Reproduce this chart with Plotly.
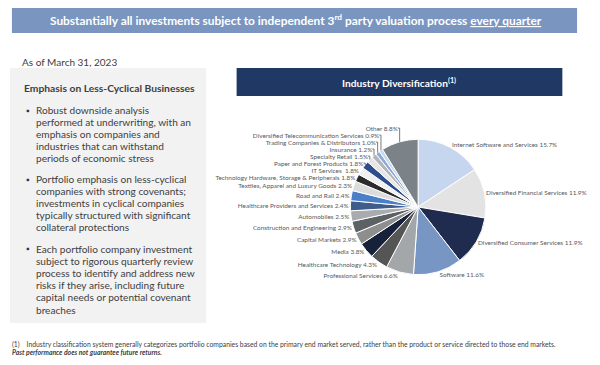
import plotly.graph_objects as go

industries = [
    "Internet Software and Services", "Diversified Financial Services",
    "Diversified Consumer Services", "Software", "Professional Services",
    "Healthcare Technology", "Media", "Capital Markets",
    "Construction and Engineering", "Automobiles",
    "Healthcare Providers and Services", "Road and Rail",
    "Textiles, Apparel and Luxury Goods",
    "Technology Hardware, Storage & Peripherals", "IT Services ",
    "Paper and Forest Products", "Specialty Retail", "Insurance",
    "Trading Companies & Distributors", "Diversified Telecommunication Services",
    "Other",
]
shares = [15.7, 11.9, 11.9, 11.6, 6.6, 4.3, 3.8, 2.9, 2.9, 2.5, 2.4, 2.4,
          2.3, 1.8, 1.8, 1.8, 1.5, 1.2, 1.0, 0.9, 8.8]
slice_colors = [
    "#c5d6ee", "#e3e3e3", "#1f2c4f", "#7896c3", "#a4a7aa", "#555555",
    "#17213a", "#8e8e8e", "#5c6166", "#a9acaf", "#3e5d8a", "#4a7ec9",
    "#dcdcdc", "#2b2b2b", "#f0f0f0", "#2d4d8c", "#e6e6e6", "#b3b5b8",
    "#8eaad6", "#c9daf0", "#7b8388",
]

bullets = [
    ["Robust downside analysis", "performed at underwriting, with an",
     "emphasis on companies and", "industries that can withstand",
     "periods of economic stress"],
    ["Portfolio emphasis on less-cyclical", "companies with strong covenants;",
     "investments in cyclical companies", "typically structured with significant",
     "collateral protections"],
    ["Each portfolio company investment", "subject to rigorous quarterly review",
     "process to identify and address new", "risks if they arise, including future",
     "capital needs or potential covenant", "breaches"],
]
bullet_tops = [110, 179, 249]

# page body has an 8px margin, so the figure is offset by 8px
OFF = 8
W, H = 600 - 2 * OFF, 365 - 2 * OFF
FONT = "Lato"

def px(x):
    return (x - OFF) / W

def py(y):
    return 1 - (y - OFF) / H

fig = go.Figure()

cx, cy, r = 426, 207, 69
fig.add_trace(go.Pie(
    labels=industries, values=shares, sort=False, direction="clockwise",
    rotation=0,
    marker=dict(colors=slice_colors, line=dict(color="white", width=1)),
    texttemplate="%{label} %{value:.1f}%", textposition="outside",
    textfont=dict(family=FONT, size=6.4, color="#595959"),
    domain=dict(x=[px(cx - r), px(cx + r)], y=[py(cy + r), py(cy - r)]),
    showlegend=False, hoverinfo="label+value",
))

shapes = [
    dict(type="rect", xref="paper", yref="paper", x0=px(12), x1=px(588),
         y0=py(33), y1=py(7), fillcolor="#7a96c0", line=dict(width=0)),
    dict(type="rect", xref="paper", yref="paper", x0=px(10), x1=px(210),
         y0=py(323), y1=py(68), fillcolor="#f2f2f2", line=dict(width=0)),
    dict(type="rect", xref="paper", yref="paper", x0=px(241), x1=px(573),
         y0=py(96), y1=py(68), fillcolor="#1f3864", line=dict(width=0)),
]

ann = []
def add_text(x, y, text, size, color="#404040", xanchor="left", bold=False,
             italic=False):
    if bold:
        text = "<b>" + text + "</b>"
    if italic:
        text = "<i>" + text + "</i>"
    ann.append(dict(x=px(x), y=py(y), xref="paper", yref="paper", text=text,
                    showarrow=False, xanchor=xanchor, yanchor="middle",
                    font=dict(family=FONT, size=size, color=color)))

add_text(302, 20, "Substantially all investments subject to independent 3<sup>rd</sup> "
         "party valuation process <u>every quarter</u>", 11.9, "white",
         xanchor="center", bold=True)
add_text(20, 62, "As of March 31, 2023", 10, "#404040")
add_text(22, 88, "Emphasis on Less-Cyclical Businesses", 10.3, "#404040", bold=True)
for lines, top in zip(bullets, bullet_tops):
    add_text(24, top, "▪", 9, "#1f3864")
    for i, line in enumerate(lines):
        add_text(34, top + i * 12.1, line, 10.1, "#404040")
add_text(407, 82, "Industry Diversification<sup>(1)</sup>", 10.2, "white",
         xanchor="center", bold=True)
add_text(10, 344, "(1)&nbsp;&nbsp;&nbsp;&nbsp;Industry classification system generally "
         "categorizes portfolio companies based on the primary end market served, "
         "rather than the product or service directed to those end markets.",
         6.8, "#404040")
add_text(10, 352, "Past performance does not guarantee future returns.", 6.8,
         "#404040", bold=True, italic=True)

fig.update_layout(
    width=W, height=H, margin=dict(l=0, r=0, t=0, b=0),
    paper_bgcolor="white", plot_bgcolor="white",
    shapes=shapes, annotations=ann,
    font=dict(family=FONT),
)

fig.write_html("out.html")
